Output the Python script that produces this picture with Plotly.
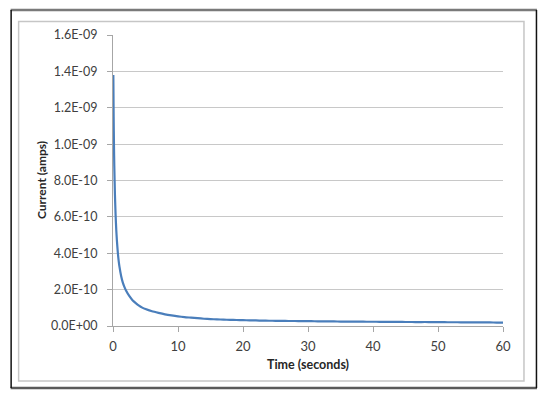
import plotly.graph_objects as go

# Data
time_s = [0.05, 0.1, 0.15, 0.2, 0.3, 0.4, 0.5, 0.6, 0.75, 0.9, 1.0, 1.25, 1.5, 1.75, 2.0,
          2.5, 3.0, 3.5, 4.0, 4.5, 5.0, 6.0, 7.0, 8.0, 9.0, 10.0, 11.0, 12.0, 13.0, 14.0,
          15.0, 16.0, 17.0, 18.0, 19.0, 20.0, 21.0, 22.0, 23.0, 24.0, 25.0, 26.0, 27.0,
          28.0, 29.0, 30.0, 31.0, 32.0, 33.0, 34.0, 35.0, 36.0, 37.0, 38.0, 39.0, 40.0,
          41.0, 42.0, 43.0, 44.0, 45.0, 46.0, 47.0, 48.0, 49.0, 50.0, 51.0, 52.0, 53.0,
          54.0, 55.0, 56.0, 57.0, 58.0, 59.0, 60.0]
current_a = [1.38e-9, 1.15e-9, 9.9e-10, 8.8e-10, 7.2e-10, 6.1e-10, 5.3e-10, 4.7e-10, 4.0e-10,
             3.5e-10, 3.25e-10, 2.75e-10, 2.4e-10, 2.15e-10, 1.95e-10,
             1.65e-10, 1.42e-10, 1.26e-10, 1.12e-10, 1.01e-10, 9.3e-11, 8.1e-11, 7.2e-11,
             6.4e-11, 5.8e-11, 5.3e-11, 4.9e-11, 4.6e-11, 4.3e-11, 4.0e-11,
             3.8e-11, 3.65e-11, 3.5e-11, 3.4e-11, 3.3e-11, 3.2e-11, 3.1e-11, 3.05e-11,
             2.95e-11, 2.9e-11, 2.85e-11, 2.8e-11, 2.75e-11,
             2.75e-11, 2.65e-11, 2.65e-11, 2.6e-11, 2.55e-11, 2.55e-11, 2.5e-11, 2.45e-11,
             2.45e-11, 2.4e-11, 2.4e-11, 2.35e-11, 2.35e-11,
             2.3e-11, 2.3e-11, 2.25e-11, 2.25e-11, 2.2e-11, 2.2e-11, 2.15e-11, 2.2e-11,
             2.1e-11, 2.1e-11, 2.1e-11, 2.05e-11, 2.05e-11,
             2.0e-11, 2.0e-11, 2.0e-11, 1.95e-11, 1.95e-11, 1.9e-11, 1.9e-11]

x_ticks = [0, 10, 20, 30, 40, 50, 60]
y_ticks = [0, 2e-10, 4e-10, 6e-10, 8e-10, 1.0e-9, 1.2e-9, 1.4e-9, 1.6e-9]
y_tick_labels = ["0.0E+00", "2.0E-10", "4.0E-10", "6.0E-10", "8.0E-10",
                 "1.0E-09", "1.2E-09", "1.4E-09", "1.6E-09"]

W, H = 546, 396
L, R, T, B = 112.5, 503, 35, 326

def px(x):
    return (x - L) / (R - L)

def py(y):
    return (B - y) / (B - T)

fig = go.Figure()
fig.add_trace(go.Scatter(x=time_s, y=current_a, mode="lines",
                         line=dict(color="#4a7ebb", width=2.2, shape="spline", smoothing=0.6),
                         hoverinfo="skip", showlegend=False))

font_fam = "Lato, 'Open Sans', 'DejaVu Sans', sans-serif"

shapes = [
    # inner light frame
    dict(type="rect", xref="paper", yref="paper", x0=px(18), x1=px(524), y0=py(21.5), y1=py(381),
         line=dict(color="#c6c6c6", width=1.5), layer="below"),
    # outer frame
    dict(type="line", xref="paper", yref="paper", x0=px(10), x1=px(537), y0=py(10), y1=py(10),
         line=dict(color="#7a7a7a", width=2.5)),
    dict(type="line", xref="paper", yref="paper", x0=px(10), x1=px(537), y0=py(388), y1=py(388),
         line=dict(color="#5a5a5a", width=2.5)),
    dict(type="line", xref="paper", yref="paper", x0=px(10.5), x1=px(10.5), y0=py(10), y1=py(388),
         line=dict(color="#111111", width=1.5)),
    dict(type="line", xref="paper", yref="paper", x0=px(536.5), x1=px(536.5), y0=py(10), y1=py(388),
         line=dict(color="#111111", width=1.5)),
]

annotations = [
    dict(text="<b>Current (amps)</b>", xref="paper", yref="paper", x=px(41), y=py(180.5),
         xanchor="center", yanchor="middle", textangle=-90, showarrow=False,
         font=dict(size=12, color="#262626")),
]

fig.update_layout(
    width=W, height=H,
    margin=dict(l=L, r=W - R, t=T, b=H - B, pad=0),
    paper_bgcolor="white", plot_bgcolor="white",
    font=dict(family=font_fam, color="#404040", size=13),
    shapes=shapes, annotations=annotations,
    xaxis=dict(range=[0, 60], tickvals=x_ticks, ticktext=[str(v) for v in x_ticks],
               showgrid=False, zeroline=False, showline=True, linecolor="#a6a6a6", linewidth=1,
               ticks="outside", ticklen=5, tickcolor="#a6a6a6", tickwidth=1,
               tickfont=dict(size=13, color="#404040"), ticklabelstandoff=3,
               title=dict(text="<b>Time (seconds)</b>", font=dict(size=12.5, color="#262626"), standoff=7)),
    yaxis=dict(range=[0, 1.6e-9], tickvals=y_ticks, ticktext=y_tick_labels,
               showgrid=True, gridcolor="#c8c8c8", gridwidth=1, zeroline=False,
               showline=True, linecolor="#a6a6a6", linewidth=1,
               ticks="outside", ticklen=5, tickcolor="#a6a6a6", tickwidth=1,
               tickfont=dict(size=12.5, color="#404040"), ticklabelstandoff=7),
)

fig.write_html("out.html", config={"displayModeBar": False},
               post_script="document.body.style.margin='0';document.body.style.padding='0';")
